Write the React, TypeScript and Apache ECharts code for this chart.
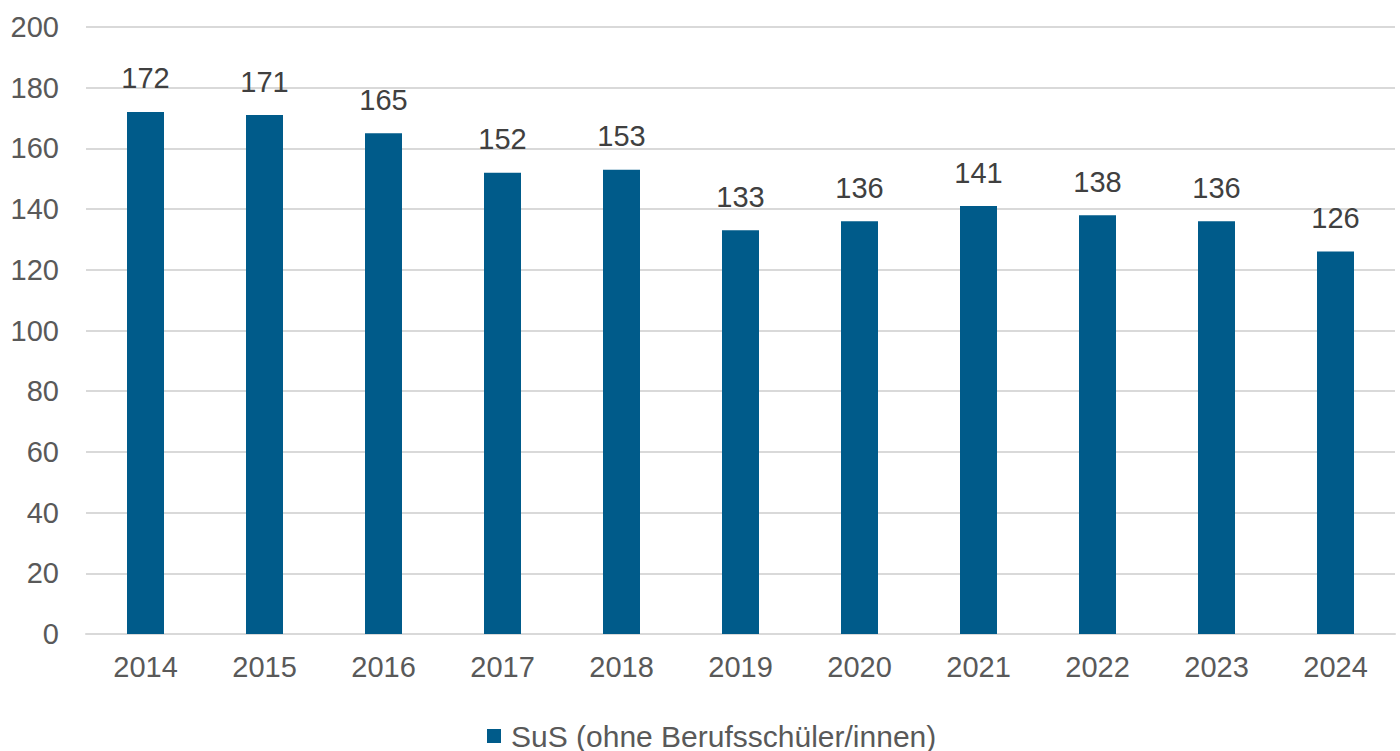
import React, { useEffect, useRef } from "react";
import * as echarts from "echarts";

const categories = ["2014", "2015", "2016", "2017", "2018", "2019", "2020", "2021", "2022", "2023", "2024"];
const values = [172, 171, 165, 152, 153, 133, 136, 141, 138, 136, 126];
const seriesName = "SuS (ohne Berufsschüler/innen)";

export default function App() {
  const ref = useRef<HTMLDivElement>(null);
  useEffect(() => {
    if (!ref.current) return;
    const chart = echarts.init(ref.current, null, { renderer: "svg" });
    chart.setOption({
      animation: false,
      textStyle: { fontFamily: "Liberation Sans, Arial, sans-serif" },
      grid: { left: 86, right: 5, top: 27, bottom: 117, containLabel: false },
      legend: {
        data: [seriesName],
        left: 487,
        top: 720,
        padding: 0,
        itemWidth: 14,
        itemHeight: 14,
        itemGap: 6,
        icon: "rect",
        textStyle: { fontSize: 30, lineHeight: 32, color: "#595959", padding: [0, 0, 0, 5] },
      },
      xAxis: {
        type: "category",
        data: categories,
        axisLine: { show: true, lineStyle: { color: "#d9d9d9", width: 2 } },
        axisTick: { show: false },
        axisLabel: { fontSize: 29, color: "#595959", margin: 18 },
      },
      yAxis: {
        type: "value",
        min: 0,
        max: 200,
        interval: 20,
        axisLine: { show: false },
        axisTick: { show: false },
        splitLine: { lineStyle: { color: "#d9d9d9", width: 2 } },
        axisLabel: { fontSize: 29, color: "#595959", margin: 27 },
      },
      series: [
        {
          name: seriesName,
          type: "bar",
          data: values,
          barWidth: 37,
          itemStyle: { color: "#005b8a" },
          label: {
            show: true,
            position: "top",
            distance: 19,
            fontSize: 29,
            color: "#404040",
          },
        },
      ],
    });
    return () => chart.dispose();
  }, []);
  return (
    <div
      ref={ref}
      style={{ position: "fixed", left: 0, top: 0, width: 1400, height: 751, background: "#fff" }}
    />
  );
}
